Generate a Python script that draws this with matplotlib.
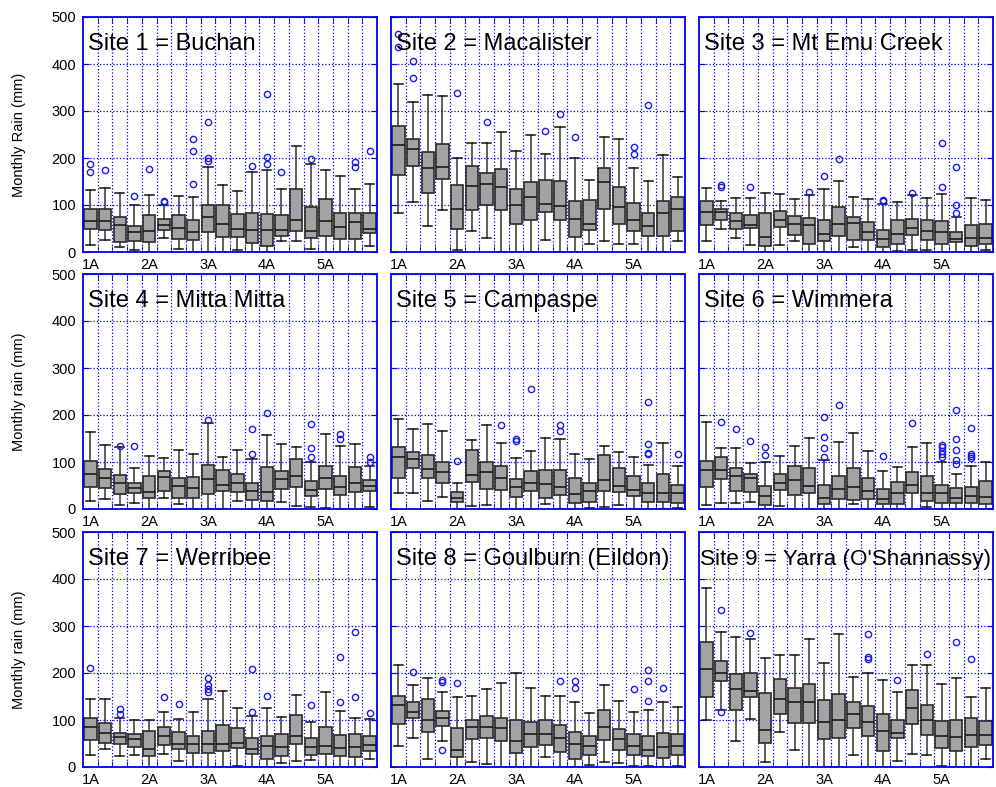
import matplotlib
matplotlib.use('Agg')
import matplotlib.pyplot as plt

plt.rcParams['font.family'] = ['Liberation Sans', 'DejaVu Sans']

# panel titles and labels
sites = ['Site 1 = Buchan', 'Site 2 = Macalister', 'Site 3 = Mt Emu Creek',
         'Site 4 = Mitta Mitta', 'Site 5 = Campaspe', 'Site 6 = Wimmera',
         'Site 7 = Werribee', 'Site 8 = Goulburn (Eildon)', "Site 9 = Yarra (O'Shannassy)"]
row_ylabels = ['Monthly Rain (mm)', 'Monthly rain (mm)', 'Monthly rain (mm)']
tick_pos = [1, 5, 9, 13, 17]
tick_labels = ['1A', '2A', '3A', '4A', '5A']

# box statistics, one row of 20 boxes per site (mm)
whi = [
    [132, 136, 125, 101, 121, 99, 119, 116, 180, 143, 130, 170, 174, 134, 226, 187, 175, 162, 134, 144],
    [357, 319, 333, 332, 201, 232, 232, 255, 214, 250, 209, 267, 201, 154, 245, 240, 178, 152, 206, 160],
    [136, 108, 115, 115, 126, 123, 113, 121, 135, 151, 116, 113, 103, 106, 122, 115, 123, 74, 115, 110],
    [163, 137, 132, 87, 113, 109, 126, 117, 184, 111, 125, 107, 158, 139, 132, 101, 159, 134, 139, 91],
    [191, 171, 180, 167, 56, 147, 179, 140, 109, 124, 152, 149, 116, 106, 133, 121, 111, 94, 140, 92],
    [185, 130, 130, 98, 101, 113, 135, 152, 105, 142, 162, 123, 80, 89, 132, 140, 99, 74, 91, 99],
    [144, 145, 104, 99, 99, 118, 103, 116, 145, 162, 125, 109, 126, 106, 154, 96, 160, 120, 105, 102],
    [218, 174, 189, 159, 149, 152, 165, 179, 201, 168, 151, 152, 138, 114, 175, 140, 118, 121, 138, 127],
    [380, 287, 276, 272, 232, 238, 238, 273, 221, 284, 192, 201, 186, 160, 216, 217, 177, 190, 148, 169],
]
q3 = [
    [91, 91, 74, 55, 79, 70, 79, 68, 100, 100, 81, 82, 81, 79, 134, 96, 112, 83, 83, 84],
    [268, 241, 212, 230, 143, 184, 168, 177, 134, 150, 154, 152, 109, 111, 179, 138, 105, 84, 109, 117],
    [109, 92, 82, 79, 82, 88, 77, 73, 68, 96, 75, 64, 47, 68, 71, 68, 65, 43, 58, 60],
    [102, 86, 73, 56, 70, 81, 67, 69, 93, 82, 75, 55, 89, 81, 106, 59, 92, 71, 90, 61],
    [132, 122, 114, 101, 36, 126, 101, 92, 64, 80, 84, 84, 66, 55, 114, 87, 70, 55, 75, 52],
    [102, 111, 87, 74, 50, 74, 92, 87, 51, 71, 87, 66, 43, 57, 79, 71, 52, 44, 47, 60],
    [105, 94, 72, 71, 77, 86, 75, 67, 77, 89, 82, 62, 67, 70, 110, 62, 86, 68, 70, 66],
    [151, 138, 144, 120, 82, 100, 108, 105, 99, 96, 100, 90, 75, 67, 121, 80, 71, 65, 73, 70],
    [265, 226, 198, 199, 157, 188, 169, 177, 143, 155, 138, 130, 113, 101, 163, 131, 98, 99, 104, 97],
]
med = [
    [67, 66, 57, 43, 44, 57, 51, 43, 74, 60, 48, 47, 47, 47, 68, 45, 66, 53, 64, 48],
    [228, 219, 179, 181, 91, 140, 145, 138, 99, 116, 103, 97, 70, 60, 150, 95, 69, 56, 82, 91],
    [85, 85, 67, 58, 31, 68, 60, 57, 39, 60, 62, 42, 27, 38, 51, 44, 42, 28, 30, 30],
    [74, 66, 56, 44, 37, 68, 49, 44, 63, 51, 56, 39, 37, 63, 71, 41, 66, 47, 55, 49],
    [111, 106, 85, 79, 23, 72, 79, 67, 47, 56, 53, 47, 32, 38, 62, 50, 40, 35, 33, 35],
    [84, 84, 70, 66, 28, 56, 62, 50, 24, 43, 47, 39, 22, 33, 52, 35, 33, 24, 28, 26],
    [86, 73, 63, 60, 38, 67, 48, 50, 49, 50, 52, 38, 44, 43, 65, 43, 45, 41, 42, 47],
    [131, 116, 100, 105, 37, 85, 86, 83, 55, 71, 70, 62, 48, 44, 85, 60, 45, 36, 43, 44],
    [209, 201, 166, 161, 79, 145, 139, 138, 96, 101, 113, 96, 76, 72, 126, 101, 67, 63, 68, 68],
]
q1 = [
    [48, 46, 21, 23, 21, 46, 27, 25, 43, 31, 32, 20, 13, 34, 44, 30, 34, 27, 27, 40],
    [163, 184, 126, 156, 50, 90, 99, 90, 60, 69, 86, 69, 31, 46, 92, 59, 44, 35, 35, 44],
    [58, 68, 50, 51, 13, 53, 37, 18, 24, 33, 26, 26, 11, 17, 37, 26, 18, 21, 13, 17],
    [46, 44, 32, 34, 23, 39, 24, 23, 31, 39, 36, 19, 16, 43, 47, 28, 43, 29, 36, 39],
    [67, 87, 67, 56, 15, 57, 43, 41, 25, 38, 23, 30, 13, 15, 38, 36, 28, 15, 15, 13],
    [47, 64, 38, 36, 9, 40, 30, 33, 11, 21, 19, 21, 11, 11, 33, 18, 12, 13, 12, 11],
    [57, 52, 48, 43, 24, 46, 38, 30, 30, 33, 40, 27, 16, 23, 48, 25, 27, 24, 21, 33],
    [91, 104, 75, 88, 21, 60, 61, 55, 29, 43, 46, 31, 16, 26, 58, 37, 26, 23, 19, 25],
    [150, 184, 121, 149, 51, 113, 93, 94, 60, 62, 82, 65, 35, 61, 91, 69, 41, 35, 43, 46],
]
wlo = [
    [15, 26, 10, 4, 0, 30, 6, 0, 0, 0, 4, 0, 0, 24, 24, 7, 0, 0, 0, 13],
    [84, 106, 55, 90, 5, 44, 30, 0, 0, 0, 26, 0, 0, 16, 23, 16, 16, 0, 0, 23],
    [24, 50, 30, 15, 0, 15, 23, 0, 0, 0, 11, 0, 0, 3, 4, 5, 0, 0, 0, 5],
    [18, 22, 9, 12, 1, 23, 10, 1, 1, 1, 16, 1, 1, 14, 7, 4, 3, 1, 1, 5],
    [33, 33, 18, 26, 0, 7, 9, 0, 0, 0, 11, 0, 0, 3, 4, 9, 1, 0, 0, 2],
    [8, 12, 12, 15, 0, 6, 1, 0, 0, 0, 11, 0, 0, 0, 1, 4, 0, 0, 0, 0],
    [26, 39, 23, 26, 0, 28, 13, 0, 0, 0, 3, 0, 0, 9, 13, 14, 0, 0, 0, 16],
    [44, 62, 17, 55, 0, 11, 6, 0, 0, 0, 22, 0, 0, 4, 10, 8, 3, 3, 0, 3],
    [99, 121, 55, 102, 10, 74, 36, 0, 0, 0, 26, 0, 0, 13, 28, 26, 2, 0, 0, 18],
]
# outliers: box index -> values
fliers = [
    {0: [187, 171], 1: [174], 3: [120], 4: [177], 5: [109, 106], 7: [144, 214, 240],
     8: [200, 194, 277], 11: [184], 12: [336, 203, 187], 13: [170], 15: [198],
     18: [191, 181], 19: [214]},
    {0: [464, 436], 1: [406, 370], 4: [339], 6: [277], 10: [258], 11: [294],
     12: [244], 16: [223, 209], 17: [312]},
    {1: [143, 139], 3: [139], 7: [127], 8: [162], 9: [198], 12: [110, 108],
     14: [126], 16: [232, 139], 17: [181, 101, 82]},
    {2: [135], 3: [133], 8: [189], 11: [116, 170], 12: [205], 15: [111, 129, 180],
     17: [159, 150], 19: [111, 101]},
    {4: [103], 7: [179], 8: [148, 145], 9: [256], 11: [179, 166],
     17: [227, 139, 120, 118], 19: [116]},
    {1: [186], 2: [171], 3: [145], 4: [132, 115], 8: [196, 154, 129, 111], 9: [221],
     12: [112], 14: [184], 16: [137, 131, 123, 117, 111], 17: [210, 148, 125, 104, 95],
     18: [172, 118, 113, 109]},
    {0: [210], 2: [123, 113], 5: [148], 6: [135], 8: [190, 174, 167, 160],
     11: [209, 116], 12: [152], 15: [132], 17: [233, 139], 18: [287, 149], 19: [115]},
    {1: [203], 3: [186, 180, 37], 4: [179], 11: [182], 12: [183, 168], 16: [166],
     17: [207, 183, 141], 18: [169]},
    {1: [333, 116], 3: [285], 11: [284, 234, 230], 13: [186], 15: [240], 17: [267],
     18: [230]},
]

W, H = 996, 787
fig = plt.figure(figsize=(W / 100, H / 100), dpi=100)
fig.patch.set_facecolor('white')

lefts = [83, 391, 699]
tops = [17, 274, 532]
pw, ph = 294, 235
blue = '#0000EE'

for k in range(9):
    r, c = divmod(k, 3)
    ax = fig.add_axes([lefts[c] / W, 1 - (tops[r] + ph) / H, pw / W, ph / H])
    n = len(med[k])
    stats = [dict(med=med[k][j], q1=q1[k][j], q3=q3[k][j],
                  whislo=wlo[k][j], whishi=whi[k][j],
                  fliers=fliers[k].get(j, [])) for j in range(n)]
    ax.bxp(stats, positions=range(1, n + 1), widths=0.84, capwidths=0.62,
           patch_artist=True, manage_ticks=False,
           boxprops=dict(facecolor='#A3A3A3', edgecolor='#2A2A2A', linewidth=1.2),
           medianprops=dict(color='#1A1A1A', linewidth=1.2),
           whiskerprops=dict(color='#333333', linewidth=1.1),
           capprops=dict(color='#111111', linewidth=1.1),
           flierprops=dict(marker='o', markersize=4.5, markerfacecolor='none',
                           markeredgecolor='#1A1AE6', markeredgewidth=1.0))

    ax.set_xlim(0.5, n + 0.5)
    ax.set_ylim(0, 500)
    ax.set_axisbelow(True)

    ax.set_xticks(tick_pos)
    ax.set_xticklabels(tick_labels, fontsize=10.5)
    ax.set_xticks([j + 0.5 for j in range(1, n)], minor=True)
    ax.set_yticks(range(0, 501, 100))
    ax.tick_params(axis='x', which='major', length=0, pad=4)
    ax.tick_params(axis='x', which='minor', direction='in', length=4,
                   color=blue, top=True, bottom=True)
    ax.tick_params(axis='y', direction='in', length=4, color=blue,
                   right=True, labelsize=10.5, pad=5)
    ax.grid(True, axis='x', which='minor', linestyle=':', color=blue, linewidth=0.9)
    ax.grid(True, axis='y', which='major', linestyle=':', color=blue, linewidth=0.9)

    for sp in ax.spines.values():
        sp.set_color(blue)
        sp.set_linewidth(1.3)

    if c == 0:
        ax.set_ylabel(row_ylabels[r], fontsize=10.5)
        ax.yaxis.set_label_coords(-0.195, 0.5)
    else:
        ax.set_yticklabels([])

    # the long Site 9 name runs to the figure edge, so it sits a bit tighter
    tx, fs = (0.004, 16.2) if k == 8 else (0.017, 17)
    ax.text(tx, 0.885, sites[k], transform=ax.transAxes, fontsize=fs,
            ha='left', va='center', color='black', clip_on=False)

plt.savefig('out.png', dpi=100, facecolor='white')
plt.close(fig)
